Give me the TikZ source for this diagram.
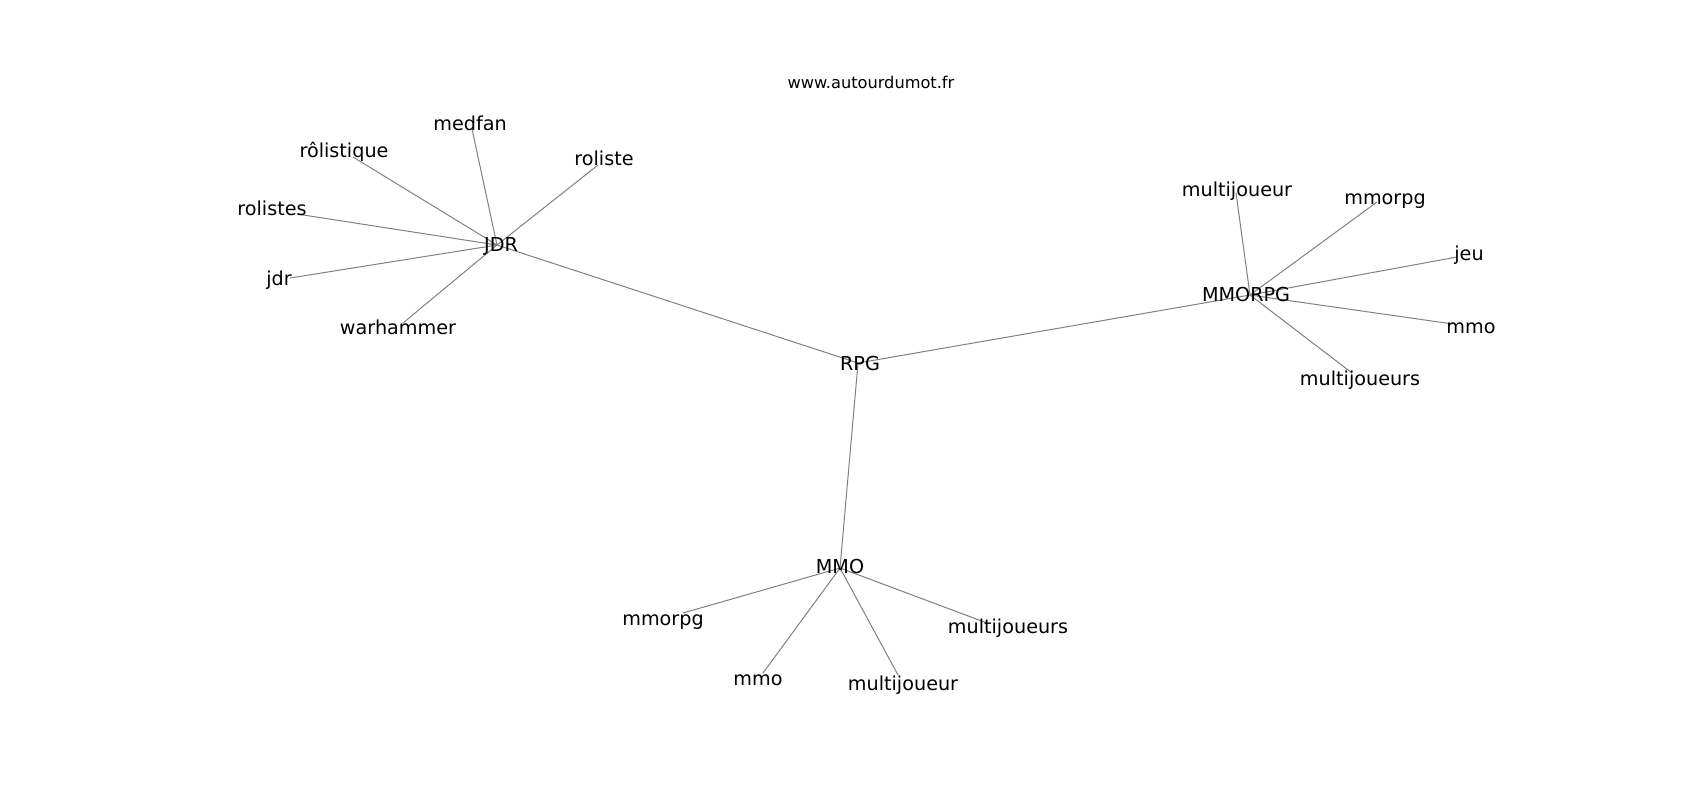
\documentclass[tikz,border=0pt]{standalone}
\usepackage{fontspec}
\setmainfont{DejaVu Sans}
\usetikzlibrary{positioning}
\definecolor{edgeColor}{RGB}{128, 128, 128}
\tikzstyle{word} = [inner sep=0pt, anchor=base, font=\fontsize{9.6}{11}\selectfont]
\tikzstyle{title} = [inner sep=0pt, anchor=base, font=\fontsize{8.1}{10}\selectfont]
\tikzstyle{edge} = [draw=edgeColor, line width=0.5pt]

\begin{document}
\begin{tikzpicture}[x=0.5pt, y=-0.5pt]
				\useasboundingbox (0,0) rectangle (1700,800);
				
				\coordinate (rpgV) at (858,363);
				\coordinate (jdrV) at (497,245);
				\coordinate (mmorpgV) at (1250,295);
				\coordinate (mmoV) at (840,568);
				
				\coordinate (medfanV) at (472,129);
				\coordinate (rolistiqueV) at (353,157);
				\coordinate (rolisteV) at (598,165);
				\coordinate (rolistesV) at (297,214);
				\coordinate (jdrLowV) at (290,278);
				\coordinate (warhammerV) at (403,323);
				
				\coordinate (multiAV) at (1236,193);
				\coordinate (mmorpgAV) at (1377,202);
				\coordinate (jeuV) at (1457,257);
				\coordinate (mmoAV) at (1453,324);
				\coordinate (multisAV) at (1352,373);
				
				\coordinate (mmorpgBV) at (683,613);
				\coordinate (mmoBV) at (763,673);
				\coordinate (multiBV) at (898,675);
				\coordinate (multisBV) at (987,623);
				
				\draw[edge] (rpgV) -- (jdrV);
				\draw[edge] (rpgV) -- (mmorpgV);
				\draw[edge] (rpgV) -- (mmoV);
				
				\draw[edge] (jdrV) -- (medfanV);
				\draw[edge] (jdrV) -- (rolistiqueV);
				\draw[edge] (jdrV) -- (rolisteV);
				\draw[edge] (jdrV) -- (rolistesV);
				\draw[edge] (jdrV) -- (jdrLowV);
				\draw[edge] (jdrV) -- (warhammerV);
				
				\draw[edge] (mmorpgV) -- (multiAV);
				\draw[edge] (mmorpgV) -- (mmorpgAV);
				\draw[edge] (mmorpgV) -- (jeuV);
				\draw[edge] (mmorpgV) -- (mmoAV);
				\draw[edge] (mmorpgV) -- (multisAV);
				
				\draw[edge] (mmoV) -- (mmorpgBV);
				\draw[edge] (mmoV) -- (mmoBV);
				\draw[edge] (mmoV) -- (multiBV);
				\draw[edge] (mmoV) -- (multisBV);
				
				\node (site) [title] at (871,88.5) {www.autourdumot.fr};
				
				\node (rpg) [word] at (860,370) {RPG};
				\node (jdr) [word] at (501,251.5) {JDR};
				\node (mmorpg) [word] at (1246,301) {MMORPG};
				\node (mmo) [word] at (840,573) {MMO};
				
				\node (medfan) [word] at (470,130.5) {medfan};
				\node (rolistique) [word] at (344,157) {rôlistique};
				\node (roliste) [word] at (604,165) {roliste};
				\node (rolistes) [word] at (272,215.5) {rolistes};
				\node (jdrLow) [word] at (279,285) {jdr};
				\node (warhammer) [word] at (398,334) {warhammer};
				
				\node (multiA) [word] at (1237,196.5) {multijoueur};
				\node (mmorpgA) [word] at (1385,204) {mmorpg};
				\node (jeu) [word] at (1469,260.5) {jeu};
				\node (mmoA) [word] at (1471,333) {mmo};
				\node (multisA) [word] at (1360,385.5) {multijoueurs};
				
				\node (mmorpgB) [word] at (663,625.5) {mmorpg};
				\node (mmoB) [word] at (758,685.5) {mmo};
				\node (multiB) [word] at (903,690) {multijoueur};
				\node (multisB) [word] at (1008,633) {multijoueurs};
			\end{tikzpicture}
\end{document}
